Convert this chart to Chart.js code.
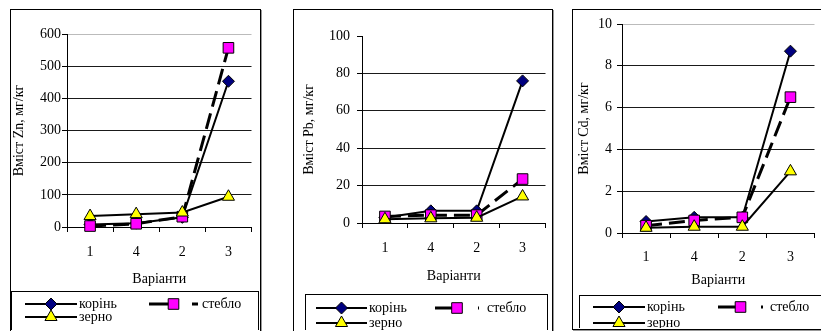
<!DOCTYPE html>
<html>
<head>
<meta charset="utf-8">
<script src="https://cdn.jsdelivr.net/npm/chart.js@4"></script>
<style>
  html, body { margin: 0; padding: 0; background: #fff; width: 821px; height: 331px; overflow: hidden; }
  canvas { position: absolute; }
  .panel { position: absolute; border: 1px solid #000; box-shadow: 1px 1px 0 #999; pointer-events: none; }
</style>
</head>
<body>
<canvas id="chart-zn" width="249" height="320" style="left:11px;top:10px"></canvas>
<canvas id="chart-pb" width="260" height="320" style="left:294px;top:10px"></canvas>
<canvas id="chart-cd" width="250" height="318" style="left:573px;top:10px"></canvas>
<div class="panel" style="left:10px;top:9px;width:249px;height:321px"></div>
<div class="panel" style="left:293px;top:9px;width:258px;height:322px"></div>
<div class="panel" style="left:572px;top:9px;width:260px;height:319px"></div>
<script>
const categories = ['1', '4', '2', '3'];
const seriesNames = ['корінь', 'стебло', 'зерно'];
const xTitle = 'Варіанти';

// Zn, мг/кг
const znRoot = [8, 12, 30, 453];
const znStem = [3, 10, 32, 557];
const znGrain = [34, 40, 45, 94];

// Pb, мг/кг
const pbRoot = [3, 6.5, 6.5, 76];
const pbStem = [3.5, 4.2, 4.2, 23.5];
const pbGrain = [2, 2.5, 2.8, 14.2];

// Cd, мг/кг
const cdRoot = [0.55, 0.75, 0.75, 8.7];
const cdStem = [0.35, 0.6, 0.75, 6.5];
const cdGrain = [0.25, 0.3, 0.3, 2.95];

const SERIF = '"Liberation Serif", "Times New Roman", serif';

function marker(ctx, style, x, y, r, fill) {
  ctx.save();
  ctx.fillStyle = fill;
  ctx.strokeStyle = '#000';
  ctx.lineWidth = 1;
  ctx.beginPath();
  if (style === 'rectRot') {
    ctx.moveTo(x, y - r); ctx.lineTo(x + r, y); ctx.lineTo(x, y + r); ctx.lineTo(x - r, y);
  } else if (style === 'rect') {
    const s = r * Math.SQRT1_2;
    ctx.rect(x - s, y - s, 2 * s, 2 * s);
  } else {
    for (let i = 0; i < 3; i++) {
      const a = i * 2 * Math.PI / 3;
      const px = x + Math.sin(a) * r, py = y - Math.cos(a) * r;
      i ? ctx.lineTo(px, py) : ctx.moveTo(px, py);
    }
  }
  ctx.closePath();
  ctx.fill();
  ctx.stroke();
  ctx.restore();
}

// legend drawn like the old spreadsheet one: line sample with marker in the middle
const excelLegend = {
  id: 'excelLegend',
  afterDraw(chart, args, o) {
    const ctx = chart.ctx;
    const ds = chart.data.datasets;
    ctx.save();
    ctx.strokeStyle = '#000';
    ctx.lineWidth = 1;
    ctx.strokeRect(o.box[0] + 0.5, o.box[1] + 0.5, o.box[2], o.box[3]);
    const items = [
      { d: ds[0], c: o.col1, y: o.rows[0] },
      { d: ds[1], c: o.col2, y: o.rows[0] },
      { d: ds[2], c: o.col1, y: o.rows[1] },
    ];
    items.forEach(it => {
      const [x0, x1, tx] = it.c;
      ctx.save();
      ctx.strokeStyle = '#000';
      ctx.lineWidth = it.d.borderWidth;
      ctx.setLineDash(it.d.legendDash);
      ctx.beginPath();
      ctx.moveTo(x0, it.y);
      ctx.lineTo(x1, it.y);
      ctx.stroke();
      ctx.restore();
      marker(ctx, it.d.pointStyle, (x0 + x1) / 2, it.y, it.d.pointRadius, it.d.pointBackgroundColor);
      ctx.fillStyle = '#000';
      ctx.font = `${o.fontSize}px ${SERIF}`;
      ctx.textBaseline = 'middle';
      ctx.fillText(it.d.label, tx, it.y);
    });
    ctx.restore();
  }
};

function makeChart(id, c) {
  return new Chart(document.getElementById(id), {
    type: 'line',
    data: {
      labels: categories,
      datasets: [
        { label: seriesNames[0], data: c.root, borderColor: '#000', borderWidth: 2, pointStyle: 'rectRot', pointRadius: 6,
          pointBackgroundColor: '#000080', pointBorderColor: '#000', pointBorderWidth: 1, order: 3, legendDash: [], clip: false },
        { label: seriesNames[1], data: c.stem, borderColor: '#000', borderWidth: 3, borderDash: [16, 7], pointStyle: 'rect', pointRadius: 7.5,
          pointBackgroundColor: '#ff00ff', pointBorderColor: '#000', pointBorderWidth: 1, order: 2, legendDash: [21, 22], clip: false },
        { label: seriesNames[2], data: c.grain, borderColor: '#000', borderWidth: 2, pointStyle: 'triangle', pointRadius: 7,
          pointBackgroundColor: '#ffff00', pointBorderColor: '#000', pointBorderWidth: 1, order: 1, legendDash: [], clip: false },
      ],
    },
    options: {
      responsive: false,
      animation: false,
      layout: { padding: { top: c.padTop, right: 0, bottom: c.padBottom, left: 0 } },
      plugins: { legend: { display: false }, tooltip: { enabled: false }, excelLegend: c.legend },
      scales: {
        x: {
          offset: true,
          grid: { offset: true, drawOnChartArea: false, drawTicks: true, tickLength: 5, color: '#000' },
          border: { color: '#000' },
          ticks: { color: '#000', font: { family: SERIF, size: c.tickSize }, padding: c.xTickPad, maxRotation: 0 },
          title: { display: true, text: xTitle, color: '#000', font: { family: SERIF, size: c.titleSize }, padding: { top: 0, bottom: c.xTitlePad } },
          afterFit: s => { s.height = c.xHeight; },
        },
        y: {
          min: 0,
          max: c.max,
          ticks: { stepSize: c.step, color: '#000', font: { family: SERIF, size: c.tickSize }, padding: c.yTickPad },
          grid: { color: g => g.tick && g.tick.value === c.max ? c.topGrid : '#1a1a1a', tickColor: '#000', tickLength: 5 },
          border: { color: '#000' },
          title: { display: true, text: c.yTitle, color: '#000', font: { family: SERIF, size: c.titleSize }, padding: { top: c.yTitlePad, bottom: 0 } },
          afterFit: s => { s.width = c.yWidth; },
        },
      },
    },
    plugins: [excelLegend],
  });
}

makeChart('chart-zn', {
  root: znRoot, stem: znStem, grain: znGrain,
  max: 600, step: 100, yTitle: 'Вміст Zn, мг/кг', topGrid: '#bbb',
  padTop: 24, padBottom: 41, yWidth: 56, xHeight: 62,
  tickSize: 14, titleSize: 14, xTickPad: 12, xTitlePad: 1, yTickPad: 1, yTitlePad: 0,
  legend: { box: [0, 281, 247, 39], rows: [294, 307], col1: [14, 66, 68], col2: [138, 187, 191], fontSize: 14 },
});

makeChart('chart-pb', {
  root: pbRoot, stem: pbStem, grain: pbGrain,
  max: 100, step: 20, yTitle: 'Вміст Pb, мг/кг', topGrid: 'rgba(0,0,0,0)',
  padTop: 26, padBottom: 45, yWidth: 68, xHeight: 62,
  tickSize: 14, titleSize: 14, xTickPad: 12, xTitlePad: 0, yTickPad: 7, yTitlePad: 7,
  legend: { box: [11, 284, 242, 40], rows: [298, 313], col1: [22, 73, 75], col2: [141, 185, 193], fontSize: 14 },
});

makeChart('chart-cd', {
  root: cdRoot, stem: cdStem, grain: cdGrain,
  max: 10, step: 2, yTitle: 'Вміст Cd, мг/кг', topGrid: '#bbb',
  padTop: 14, padBottom: 35, yWidth: 49, xHeight: 60,
  tickSize: 14, titleSize: 14, xTickPad: 11, xTitlePad: 4, yTickPad: 5, yTitlePad: 3,
  legend: { box: [6, 285, 260, 33], rows: [297, 313], col1: [20, 72, 74], col2: [145, 190, 197], fontSize: 14 },
});
</script>
</body>
</html>
